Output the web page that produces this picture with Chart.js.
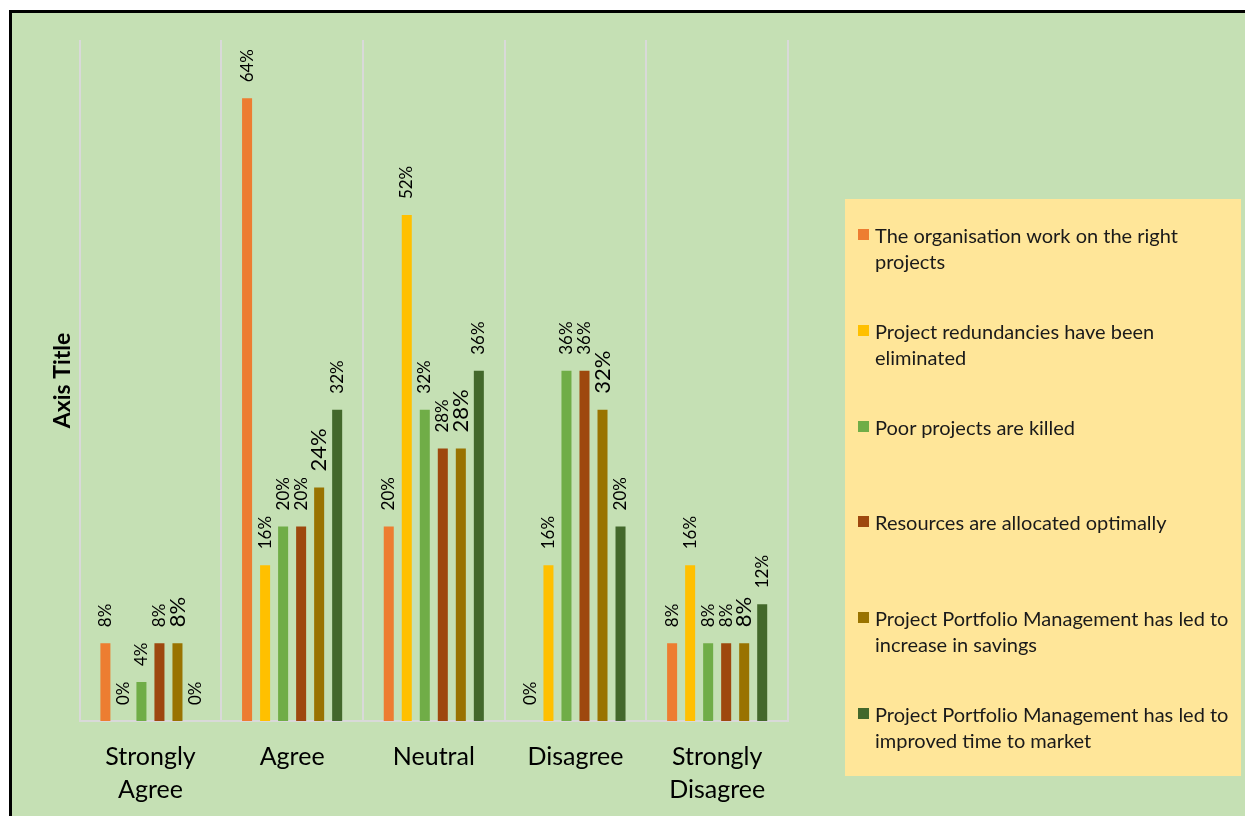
<!DOCTYPE html>
<html>
<head>
    <title>Project Portfolio Management Survey</title>
    <script src="https://cdn.jsdelivr.net/npm/chart.js"></script>
    <style>
        html, body { margin: 0; padding: 0; overflow: hidden; background: #fff; }
        #frame {
            position: absolute; left: 9px; top: 10px;
            width: 1260px; height: 830px;
            border: 3px solid #000;
            background: #C5E0B4;
            overflow: hidden;
        }
        #chart { position: absolute; left: 0; top: 0; }
        #legend {
            position: absolute; left: 833px; top: 186px;
            width: 396px; height: 577px;
            background: #FFE699;
            box-sizing: border-box;
            padding-top: 23px;
            font-family: Lato, sans-serif;
            font-size: 20px;
            color: #1a1a1a;
        }
        .item { position: relative; height: 95.8px; padding-left: 30px; line-height: 26px; white-space: pre-line; }
        .item span.box { position: absolute; left: 13px; top: 7px; width: 11px; height: 11px; }
    </style>
</head>
<body>
<div id="frame">
    <canvas id="chart" width="1233" height="822"></canvas>
    <div id="legend"></div>
</div>
<script>
    // categories and survey results (% of respondents)
    const categories = [['Strongly', 'Agree'], 'Agree', 'Neutral', 'Disagree', ['Strongly', 'Disagree']];
    const seriesNames = [
        'The organisation work on the right\nprojects',
        'Project redundancies have been\neliminated',
        'Poor projects are killed',
        'Resources are allocated optimally',
        'Project Portfolio Management has led to\nincrease in savings',
        'Project Portfolio Management has led to\nimproved time to market'
    ];
    const rightProjects = [8, 64, 20, 0, 8];
    const redundancies = [0, 16, 52, 16, 16];
    const poorKilled = [4, 20, 32, 36, 8];
    const resources = [8, 20, 28, 36, 8];
    const savings = [8, 24, 28, 32, 8];
    const timeToMarket = [0, 32, 36, 20, 12];
    const colors = ['#ED7D31', '#FFC000', '#70AD47', '#9E480E', '#997300', '#43682B'];

    const allSeries = [rightProjects, redundancies, poorKilled, resources, savings, timeToMarket];

    // rotated value labels above each bar
    const barLabels = {
        id: 'barLabels',
        afterDatasetsDraw(chart) {
            const ctx = chart.ctx;
            chart.data.datasets.forEach((ds, i) => {
                const meta = chart.getDatasetMeta(i);
                const size = i === 4 ? 22 : 17;
                meta.data.forEach((bar, j) => {
                    ctx.save();
                    ctx.translate(bar.x, bar.y - 16);
                    ctx.rotate(-Math.PI / 2);
                    ctx.font = size + 'px Lato';
                    ctx.fillStyle = '#000';
                    ctx.textAlign = 'left';
                    ctx.textBaseline = 'middle';
                    ctx.fillText(ds.data[j] + '%', 0, 0);
                    ctx.restore();
                });
            });
        }
    };

    const ctx = document.getElementById('chart').getContext('2d');
    const chart = new Chart(ctx, {
        type: 'bar',
        data: {
            labels: categories,
            datasets: allSeries.map((vals, i) => ({
                label: seriesNames[i],
                data: vals,
                backgroundColor: colors[i],
                barPercentage: 0.556,
                categoryPercentage: 0.763
            }))
        },
        options: {
            responsive: false,
            animation: false,
            layout: { padding: { left: 32, top: 27, right: 457, bottom: 10 } },
            plugins: {
                legend: { display: false },
                tooltip: { enabled: false }
            },
            scales: {
                x: {
                    grid: { color: '#D9D9D9', lineWidth: 2, drawTicks: false },
                    border: { color: '#D9D9D9', width: 2 },
                    ticks: {
                        color: '#000',
                        padding: 19,
                        font: { family: 'Lato', size: 25, lineHeight: '33px' }
                    }
                },
                y: {
                    min: 0,
                    max: 70,
                    grid: { display: false },
                    border: { display: false },
                    ticks: { display: false, padding: 0 },
                    title: {
                        display: true,
                        text: 'Axis Title',
                        color: '#000',
                        padding: { top: 5, bottom: -5 },
                        font: { family: 'Lato', size: 23, weight: 'bold' }
                    }
                }
            }
        },
        plugins: [barLabels]
    });

    // legend box built from the chart's datasets
    const legend = document.getElementById('legend');
    chart.data.datasets.forEach(ds => {
        const item = document.createElement('div');
        item.className = 'item';
        const box = document.createElement('span');
        box.className = 'box';
        box.style.background = ds.backgroundColor;
        item.appendChild(box);
        item.appendChild(document.createTextNode(ds.label));
        legend.appendChild(item);
    });
</script>
</body>
</html>
